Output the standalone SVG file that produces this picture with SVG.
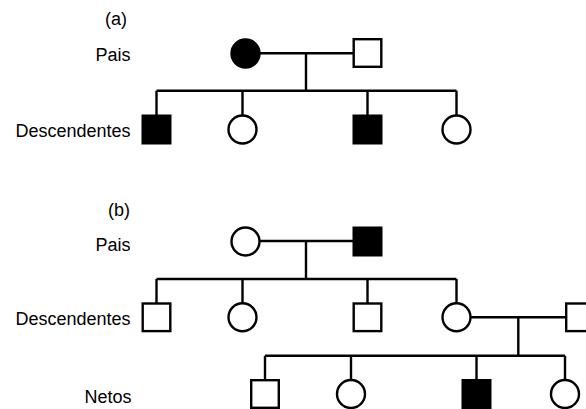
<svg xmlns="http://www.w3.org/2000/svg" width="586" height="409" viewBox="0 0 586 409">
  <defs>
    <style>
      .lbl { font-family: "Liberation Sans", Arial, sans-serif; font-size: 18px; fill: #000; text-anchor: end; }
      .ln { stroke: #000; stroke-width: 2.4; fill: none; }
      .open { fill: #fff; stroke: #000; stroke-width: 2.4; }
      .aff { fill: #000; stroke: #000; stroke-width: 2.4; }
    </style>
    <rect id="sq" x="-13.8" y="-13.8" width="27.6" height="27.6"/>
    <circle id="ci" cx="0" cy="0" r="14"/>
  </defs>
  <rect width="586" height="409" fill="#fff"/>

  <!-- generation labels -->
  <g id="labels">
    <text class="lbl" x="127" y="25">(a)</text>
    <text class="lbl" x="130.5" y="61">Pais</text>
    <text class="lbl" x="130.5" y="136.5">Descendentes</text>
    <text class="lbl" x="130" y="216">(b)</text>
    <text class="lbl" x="130.5" y="250.5">Pais</text>
    <text class="lbl" x="130.5" y="325">Descendentes</text>
    <text class="lbl" x="131.5" y="403">Netos</text>
  </g>

  <!-- lines: matings, descent and sibship -->
  <g id="connectors" class="ln">
    <!-- pedigree (a) -->
    <path d="M259 53.3 H354 M306 53.3 V90.7 M156.5 90.7 H456.5 M156.5 90.7 V116 M242.5 90.7 V116 M367.5 90.7 V116 M456.5 90.7 V116"/>
    <!-- pedigree (b) -->
    <path d="M259 241 H354 M306 241 V279 M156.5 279 H456.5 M156.5 279 V303.5 M242.5 279 V303.5 M367.5 279 V303.5 M456.5 279 V303.5"/>
    <path d="M470 317.3 H566 M518.3 317.3 V355.7 M265 355.7 H565 M265 355.7 V380.5 M351 355.7 V380.5 M476.5 355.7 V380.5 M565 355.7 V380.5"/>
  </g>

  <!-- pedigree (a) -->
  <g id="a-mother"><use href="#ci" class="aff" x="245.5" y="53.5"/></g>
  <g id="a-father"><use href="#sq" class="open" x="367.5" y="53"/></g>
  <g id="a-son1"><use href="#sq" class="aff" x="156.5" y="129.5"/></g>
  <g id="a-daughter1"><use href="#ci" class="open" x="242.5" y="129.5"/></g>
  <g id="a-son2"><use href="#sq" class="aff" x="367.5" y="129.5"/></g>
  <g id="a-daughter2"><use href="#ci" class="open" x="456.5" y="129.5"/></g>

  <!-- pedigree (b) -->
  <g id="b-mother"><use href="#ci" class="open" x="245.5" y="241.5"/></g>
  <g id="b-father"><use href="#sq" class="aff" x="367.5" y="241.5"/></g>
  <g id="b-son1"><use href="#sq" class="open" x="156.5" y="317.3"/></g>
  <g id="b-daughter1"><use href="#ci" class="open" x="242.5" y="317.3"/></g>
  <g id="b-son2"><use href="#sq" class="open" x="367.5" y="317.3"/></g>
  <g id="b-daughter2"><use href="#ci" class="open" x="456.5" y="317.3"/></g>
  <g id="b-spouse"><use href="#sq" class="open" x="580" y="317.3"/></g>
  <g id="b-grandson1"><use href="#sq" class="open" x="265" y="394"/></g>
  <g id="b-granddaughter1"><use href="#ci" class="open" x="351" y="394"/></g>
  <g id="b-grandson2"><use href="#sq" class="aff" x="476.5" y="394"/></g>
  <g id="b-granddaughter2"><use href="#ci" class="open" x="565" y="394"/></g>
</svg>
